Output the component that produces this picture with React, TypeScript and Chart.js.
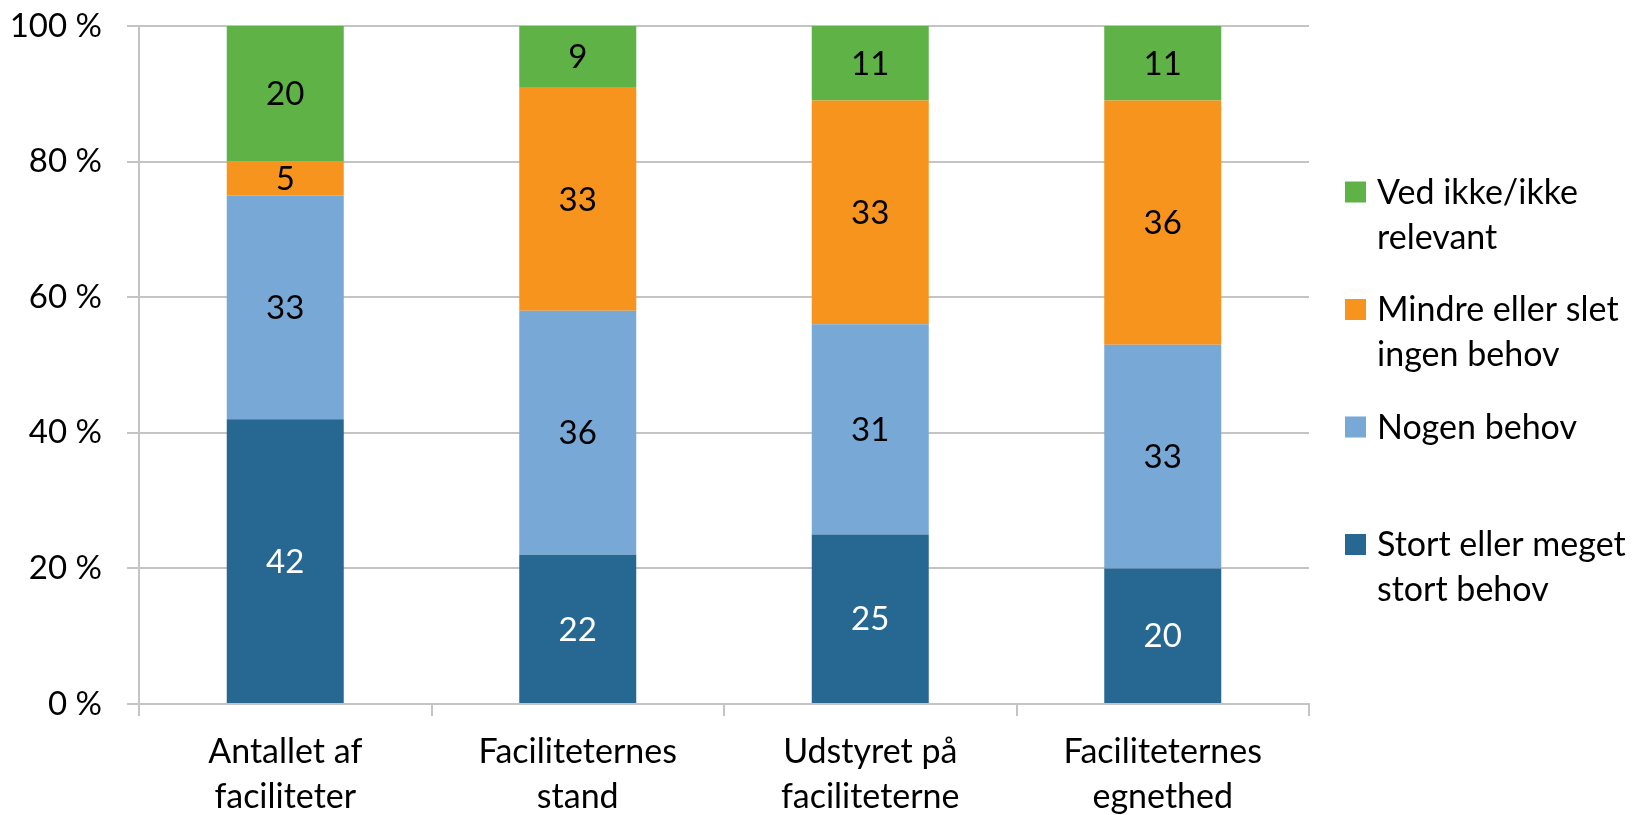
import React, { useEffect, useRef } from 'react';
import { Chart, registerables } from 'chart.js';

Chart.register(...registerables);

const categories = [
  ['Antallet af', 'faciliteter'],
  ['Faciliteternes', 'stand'],
  ['Udstyret på', 'faciliteterne'],
  ['Faciliteternes', 'egnethed'],
];
const seriesNames = ['Stort eller meget stort behov', 'Nogen behov', 'Mindre eller slet ingen behov', 'Ved ikke/ikke relevant'];
const legendLines = [
  ['Stort eller meget', 'stort behov'],
  ['Nogen behov'],
  ['Mindre eller slet', 'ingen behov'],
  ['Ved ikke/ikke', 'relevant'],
];
const stortBehov = [42, 22, 25, 20];
const nogenBehov = [33, 36, 31, 33];
const mindreBehov = [5, 33, 33, 36];
const vedIkke = [20, 9, 11, 11];
const yTickValues = [0, 20, 40, 60, 80, 100];

const colors = ['#276892', '#77A8D6', '#F7941E', '#5EB246'];
const valueColors = ['#FFFFFF', '#000000', '#000000', '#000000'];
const FONT = 'Lato, "Open Sans", sans-serif';
const TEXT_SIZE = 34;
const NUM_SIZE = 33;
const GRID = '#C4C4C4';

const valueLabelPlugin = {
  id: 'valueLabels',
  afterDatasetsDraw(chart: any) {
    const ctx = chart.ctx;
    ctx.save();
    ctx.font = `${NUM_SIZE}px ${FONT}`;
    ctx.textAlign = 'center';
    ctx.textBaseline = 'middle';
    chart.data.datasets.forEach((ds: any, di: number) => {
      const meta = chart.getDatasetMeta(di);
      meta.data.forEach((el: any, i: number) => {
        const v = ds.data[i];
        const y = (el.y + el.base) / 2;
        ctx.fillStyle = valueColors[di];
        ctx.fillText(String(v), el.x, y + 1);
      });
    });
    ctx.restore();
  },
};

const legendPlugin = {
  id: 'sideLegend',
  afterDraw(chart: any) {
    const ctx = chart.ctx;
    const boxX = 1345;
    const textX = 1377;
    const startY = 192;
    const step = 117.5;
    const lineH = 45;
    const box = 21;
    ctx.save();
    ctx.font = `${TEXT_SIZE}px ${FONT}`;
    ctx.textAlign = 'left';
    ctx.textBaseline = 'middle';
    const order = [3, 2, 1, 0];
    order.forEach((di, k) => {
      const cy = startY + k * step;
      ctx.fillStyle = colors[di];
      ctx.fillRect(boxX, cy - box / 2, box, box);
      ctx.fillStyle = '#000000';
      legendLines[di].forEach((line, li) => {
        ctx.fillText(line, textX, cy + li * lineH + 1);
      });
    });
    ctx.restore();
  },
};

export default function App() {
  const canvasRef = useRef<HTMLCanvasElement>(null);

  useEffect(() => {
    document.body.style.margin = '0';
    let chart: Chart | null = null;
    let cancelled = false;
    const make = () => {
      if (cancelled || !canvasRef.current) return;
      chart = new Chart(canvasRef.current, {
        type: 'bar',
        data: {
          labels: categories as any,
          datasets: [stortBehov, nogenBehov, mindreBehov, vedIkke].map((d, i) => ({
            label: seriesNames[i],
            data: d,
            backgroundColor: colors[i],
            borderWidth: 0,
            categoryPercentage: 1,
            barPercentage: 0.4,
          })),
        },
        options: {
          animation: false,
          responsive: false,
          maintainAspectRatio: false,
          layout: { padding: { left: 0, top: 26, right: 328, bottom: 0 } },
          plugins: {
            legend: { display: false },
            tooltip: { enabled: false },
          },
          scales: {
            x: {
              stacked: true,
              grid: {
                display: true,
                drawOnChartArea: false,
                drawTicks: true,
                tickLength: 12,
                offset: true,
                color: GRID,
                lineWidth: 2,
              },
              border: { display: true, color: GRID, width: 2 },
              ticks: {
                color: '#000000',
                font: { family: FONT, size: TEXT_SIZE, lineHeight: 1.32 },
                padding: 14,
                maxRotation: 0,
                autoSkip: false,
              },
              afterFit(scale: any) {
                scale.height = 111;
                scale.paddingLeft = 0;
                scale.paddingRight = 0;
              },
            },
            y: {
              stacked: true,
              min: 0,
              max: 100,
              afterBuildTicks(scale: any) {
                scale.ticks = yTickValues.map((v) => ({ value: v }));
              },
              grid: {
                color: GRID,
                lineWidth: 2,
                drawTicks: true,
                tickLength: 12,
              },
              border: { display: true, color: GRID, width: 2 },
              ticks: {
                color: '#000000',
                font: { family: FONT, size: NUM_SIZE },
                padding: 25,
                callback: (v: any) => `${v} %`,
              },
              afterFit(scale: any) {
                scale.width = 139;
                scale.paddingTop = 0;
                scale.paddingBottom = 0;
              },
            },
          },
        },
        plugins: [valueLabelPlugin, legendPlugin],
      });
    };
    const fontsReady = (document as any).fonts
      ? (document as any).fonts.load(`${TEXT_SIZE}px Lato`).catch(() => null)
      : Promise.resolve();
    fontsReady.then(make);
    return () => {
      cancelled = true;
      if (chart) chart.destroy();
    };
  }, []);

  return (
    <div style={{ width: 1637, height: 815, background: '#FFFFFF' }}>
      <canvas ref={canvasRef} width={1637} height={815} style={{ display: 'block' }} />
    </div>
  );
}
